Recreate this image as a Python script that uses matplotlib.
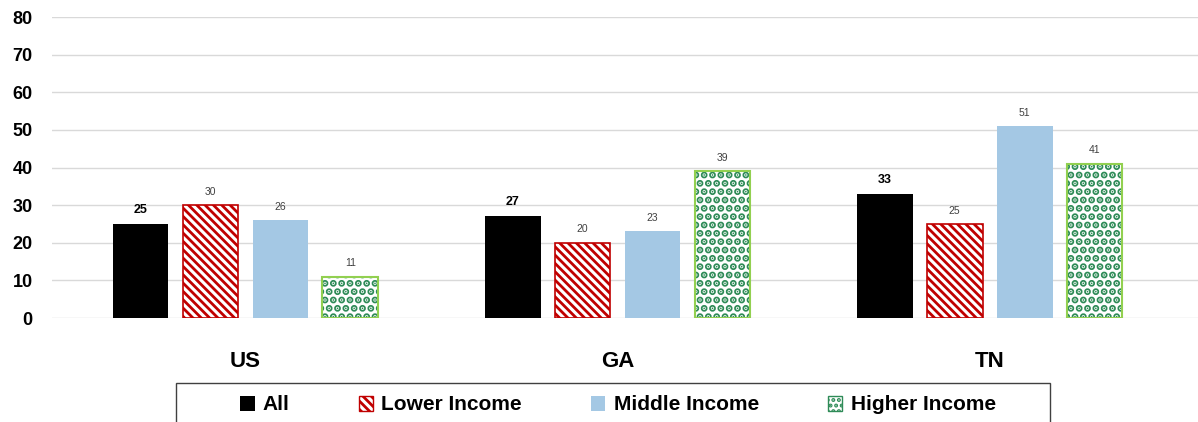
import numpy as np
import matplotlib.pyplot as plt
from matplotlib.patches import Patch, Rectangle

plt.rcParams['font.family'] = ['Liberation Sans', 'DejaVu Sans']
plt.rcParams['hatch.linewidth'] = 2.0

regions = ['US', 'GA', 'TN']
series = ['All', 'Lower Income', 'Middle Income', 'Higher Income']
all_vals = [25, 27, 33]
lower_vals = [30, 20, 25]
middle_vals = [26, 23, 51]
higher_vals = [11, 39, 41]

red = '#c00000'
blue = '#a4c8e4'
dot_green = '#2e8b57'
edge_green = '#92d050'

fig = plt.figure(figsize=(11.98, 4.22), dpi=100)
ax = fig.add_axes([0.0434, 0.2464, 0.9566, 0.7133])

x = np.arange(len(regions))
w = 0.15
step = 0.188
offs = (np.arange(4) - 1.5) * step

ax.bar(x + offs[0], all_vals, w, color='black', zorder=3)
ax.bar(x + offs[1], lower_vals, w, color='white', edgecolor=red,
       hatch='\\\\\\\\', linewidth=1.2, zorder=3)
ax.bar(x + offs[2], middle_vals, w, color=blue, zorder=3)
# dotted bars: dark dots first, then the light green outline on top
dots = ax.bar(x + offs[3], higher_vals, w, color='white', edgecolor=dot_green,
              hatch='..', linewidth=0, zorder=3)
for p in dots:
    try:
        p.set_hatch_linewidth(3.6)
    except AttributeError:
        pass
ax.bar(x + offs[3], higher_vals, w, color='none', edgecolor=edge_green,
       linewidth=1.5, zorder=4)

for i in range(len(regions)):
    ax.text(x[i] + offs[0], all_vals[i] + 2.2, str(all_vals[i]), ha='center',
            va='bottom', fontsize=9, fontweight='bold', color='black')
    for j, vals in enumerate([lower_vals, middle_vals, higher_vals]):
        ax.text(x[i] + offs[j + 1], vals[i] + 2.2, str(vals[i]), ha='center',
                va='bottom', fontsize=7.5, color='#404040')

ax.set_ylim(0, 80)
ax.set_yticks(range(0, 81, 10))
ax.set_xlim(-0.52, 2.56)
ax.set_xticks(x)
ax.set_xticklabels(regions, fontsize=16, fontweight='bold')
ax.tick_params(axis='x', length=0, pad=24)
ax.tick_params(axis='y', length=0, pad=14, labelsize=13)
for lbl in ax.get_yticklabels():
    lbl.set_fontweight('bold')
ax.grid(axis='y', color='#d9d9d9', linewidth=1, zorder=0)
for s in ax.spines.values():
    s.set_visible(False)

# legend box, runs off the bottom edge
fig.patches.append(Rectangle((176 / 1198, -0.05), (1050 - 176) / 1198,
                             0.05 + 1 - 383 / 422, transform=fig.transFigure,
                             facecolor='white', edgecolor='#404040',
                             linewidth=1.0))

handles = [
    Patch(facecolor='black'),
    Patch(facecolor='white', edgecolor=red, hatch='\\\\\\\\'),
    Patch(facecolor=blue),
    Patch(facecolor='white', edgecolor=dot_green, hatch='...'),
]
leg = fig.legend(handles, series, loc='center left',
                 bbox_to_anchor=(240 / 1198, 1 - 405 / 422), ncol=4,
                 frameon=False, prop={'size': 15, 'weight': 'bold'},
                 handlelength=0.7, handleheight=0.7, handletextpad=0.4,
                 columnspacing=3.3, borderpad=0, borderaxespad=0)

fig.savefig('out.png', dpi=100)
